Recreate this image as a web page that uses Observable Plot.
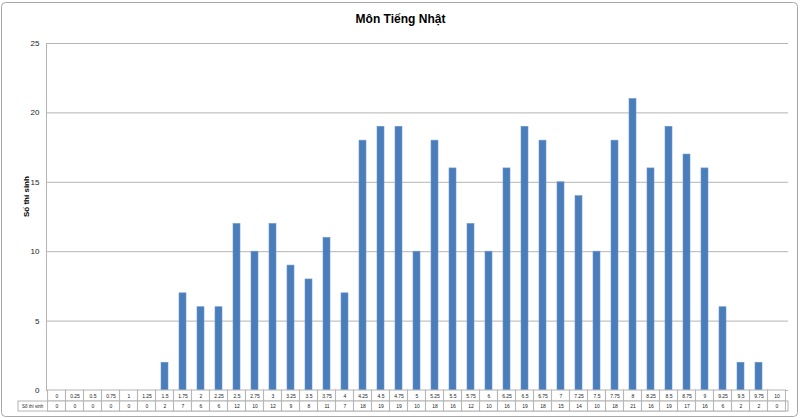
<!DOCTYPE html>
<html>
<head>
<meta charset="utf-8">
<script src="https://cdn.jsdelivr.net/npm/d3@7"></script>
<script src="https://cdn.jsdelivr.net/npm/@observablehq/plot@0.6"></script>
<style>
  html, body { margin: 0; padding: 0; background: #fff; }
  #chart svg { display: block; }
</style>
</head>
<body>
<div id="chart"></div>
<script>
const categories = ["0","0.25","0.5","0.75","1","1.25","1.5","1.75","2","2.25","2.5","2.75","3","3.25","3.5","3.75","4","4.25","4.5","4.75","5","5.25","5.5","5.75","6","6.25","6.5","6.75","7","7.25","7.5","7.75","8","8.25","8.5","8.75","9","9.25","9.5","9.75","10"];
const counts = [0,0,0,0,0,0,2,7,6,6,12,10,12,9,8,11,7,18,19,19,10,18,16,12,10,16,19,18,15,14,10,18,21,16,19,17,16,6,2,2,0];
const yTicks = [0,5,10,15,20,25];
const title = "Môn Tiếng Nhật";
const yLabel = "Số thí sinh";
const rowLabel = "Số thí sinh";

const data = categories.map((c, i) => ({score: c, count: counts[i]}));

const W = 800, H = 419, mT = 43, mB = 29, mL = 46, mR = 12;
const plotW = W - mL - mR, plotH = H - mT - mB;
const step = plotW / categories.length;
const padIn = 0.6;
const cellInset = -(step * padIn) / 2;
const u = 25 / plotH; // data units per pixel
const r1 = 11 * u, r2 = 21 * u;

const font = "'Liberation Sans Narrow', 'Liberation Sans', Arial, sans-serif";
const grid = "#b4b4b4";

const chart = Plot.plot({
  width: W, height: H,
  marginTop: mT, marginBottom: mB, marginLeft: mL, marginRight: mR,
  style: {fontFamily: font, color: "#000", background: "#fff"},
  x: {domain: categories, paddingInner: padIn, paddingOuter: padIn / 2, axis: null},
  y: {domain: [0, 25], axis: null},
  marks: [
    Plot.frame({stroke: "#a6a6a6", insetTop: -41, insetLeft: -45, insetRight: -9, insetBottom: -26, rx: 4}),
    Plot.gridY(yTicks, {stroke: grid, strokeOpacity: 1}),
    Plot.frame({anchor: "left", stroke: grid}),
    Plot.axisY(yTicks, {tickSize: 0, tickPadding: 7, fontSize: 8, label: null, fill: "#222"}),
    Plot.barY(data, {x: "score", y: "count", fill: "#4a7ebb", stroke: "#6d98cc", strokeWidth: 0.6}),
    // data table
    Plot.rect([0], {y1: -r1, y2: -r2, insetLeft: -28, fill: "#fff", stroke: grid}),
    Plot.barY(data, {x: "score", y1: 0, y2: -r1, fill: "#fff", stroke: grid, insetLeft: cellInset, insetRight: cellInset}),
    Plot.barY(data, {x: "score", y1: -r1, y2: -r2, fill: "#fff", stroke: grid, insetLeft: cellInset, insetRight: cellInset}),
    Plot.text(data, {x: "score", y: -r1 / 2, text: "score", fontSize: 5, fill: "#222"}),
    Plot.text(data, {x: "score", y: -(r1 + r2) / 2, text: d => String(d.count), fontSize: 5, fill: "#222"}),
    Plot.text([rowLabel], {frameAnchor: "left", y: -(r1 + r2) / 2, dx: -14, textAnchor: "middle", fontSize: 4.5, fill: "#222"}),
    // title and y label
    Plot.text([title], {frameAnchor: "top", dy: -29, dx: -17, fontSize: 12, fontWeight: "bold"}),
    Plot.text([yLabel], {frameAnchor: "left", dx: -20, rotate: -90, fontSize: 8, fontWeight: "bold"})
  ]
});
document.getElementById("chart").append(chart);
</script>
</body>
</html>
